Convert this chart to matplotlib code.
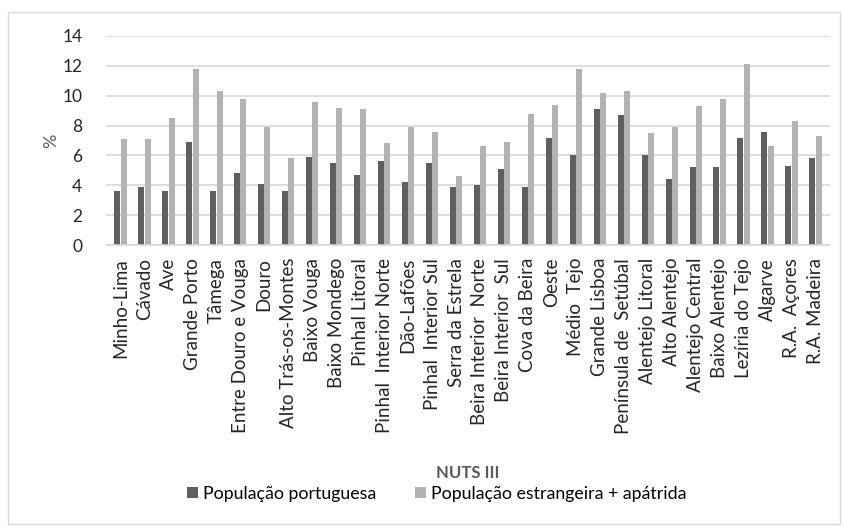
import matplotlib.pyplot as plt
import numpy as np
from matplotlib.patches import Rectangle

regioes = ["Minho-Lima", "Cávado", "Ave", "Grande Porto", "Tâmega",
           "Entre Douro e Vouga", "Douro", "Alto Trás-os-Montes", "Baixo Vouga",
           "Baixo Mondego", "Pinhal Litoral", "Pinhal  Interior Norte",
           "Dão-Lafões", "Pinhal  Interior Sul", "Serra da Estrela",
           "Beira Interior  Norte", "Beira Interior  Sul", "Cova da Beira",
           "Oeste", "Médio  Tejo", "Grande Lisboa", "Península de  Setúbal",
           "Alentejo Litoral", "Alto Alentejo", "Alentejo Central",
           "Baixo Alentejo", "Lezíria do Tejo", "Algarve", "R.A.  Açores",
           "R.A. Madeira"]
portuguesa = [3.6, 3.9, 3.6, 6.9, 3.6, 4.8, 4.1, 3.6, 5.9, 5.5, 4.7, 5.6,
              4.2, 5.5, 3.9, 4.0, 5.1, 3.9, 7.2, 6.0, 9.1, 8.7, 6.0, 4.45,
              5.2, 5.2, 7.2, 7.6, 5.3, 5.8]
estrangeira = [7.1, 7.1, 8.5, 11.8, 10.3, 9.8, 7.9, 5.8, 9.6, 9.2, 9.1, 6.8,
               7.9, 7.6, 4.6, 6.6, 6.9, 8.8, 9.4, 11.8, 10.2, 10.3, 7.5, 7.9,
               9.3, 9.8, 12.1, 6.6, 8.3, 7.3]

plt.rcParams['font.family'] = ['Lato', 'DejaVu Sans']

fig = plt.figure(figsize=(8.45, 5.27), dpi=100)
fig.patches.append(Rectangle((8 / 845, 0.005), 0.985, 1 - 12 / 527 - 0.005,
                             transform=fig.transFigure, fill=False,
                             edgecolor='#d9d9d9', linewidth=1))
ax = fig.add_axes([106 / 845, 1 - 245.3 / 527, (830 - 106) / 845, (245.3 - 35.7) / 527])

x = np.arange(len(regioes))
w = 0.25
ax.bar(x - w / 2 - 0.01, portuguesa, w, color='#5f5f5f', label='População portuguesa')
ax.bar(x + w / 2 + 0.01, estrangeira, w, color='#b3b3b3', label='População estrangeira + apátrida')

ax.set_ylim(0, 14)
ax.set_xlim(-0.6, len(regioes) - 0.4)
ax.set_yticks(range(0, 15, 2))
ax.yaxis.grid(True, color='#d9d9d9', linewidth=1.2)
ax.set_axisbelow(True)
for s in ['top', 'right', 'left']:
    ax.spines[s].set_visible(False)
ax.spines['bottom'].set_color('#d9d9d9')
ax.spines['bottom'].set_linewidth(1.2)
ax.tick_params(axis='both', length=0, colors='#262626')
ax.tick_params(axis='y', pad=17, labelsize=12.5)
ax.tick_params(axis='x', pad=9)
ax.set_xticks(x)
ax.set_xticklabels(regioes, rotation=90, fontsize=13.5)
ax.set_ylabel('%', fontsize=13, color='#595959', labelpad=2)

fig.text(468 / 845, 1 - 473 / 527, 'NUTS III', ha='center', va='center',
         fontsize=12, fontweight='bold', color='#595959')
fig.legend(loc='center', bbox_to_anchor=(437 / 845, 1 - 494 / 527), ncol=2,
           frameon=False, fontsize=12.8, handlelength=0.6, handleheight=0.6,
           columnspacing=2.2, handletextpad=0.3)

fig.savefig('out.png', dpi=100)
